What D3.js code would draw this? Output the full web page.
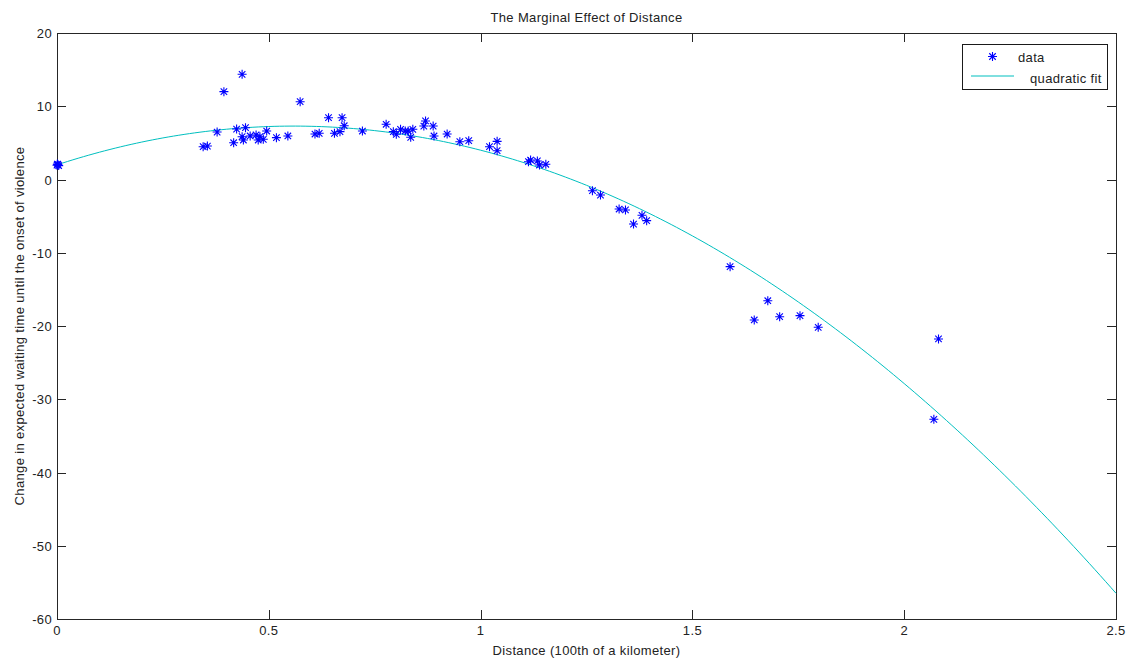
<!DOCTYPE html>
<html>
<head>
<meta charset="utf-8">
<script src="https://cdn.jsdelivr.net/npm/d3@7"></script>
<style>
  body { margin: 0; background: #fff; }
  svg { display: block; font-family: Arial, 'Liberation Sans', sans-serif; }
  .lbl { font-size: 13px; font-weight: normal; letter-spacing: 0.35px; fill: #222; }
  .frame { fill: none; stroke: #262626; stroke-width: 1; shape-rendering: crispEdges; }
  .tickmark { stroke: #262626; stroke-width: 1; shape-rendering: crispEdges; }
  .star { stroke: #0000ff; stroke-width: 1.1; }
  .fit { fill: none; stroke: rgb(0, 191, 191); stroke-width: 1; }
</style>
</head>
<body>
<svg id="chart" width="1136" height="662"></svg>
<script>
// distance (100th of a km) and change in expected waiting time
var distX = [
  0, 0.002, 0.004, 0.001,
  0.345, 0.355, 0.378, 0.394, 0.417, 0.424, 0.437, 0.445, 0.437, 0.440,
  0.456, 0.470, 0.475, 0.479, 0.487, 0.495, 0.518, 0.545, 0.574, 0.609,
  0.619, 0.641, 0.655, 0.668, 0.673, 0.678, 0.721, 0.777, 0.794, 0.801,
  0.811, 0.822, 0.829, 0.840, 0.835, 0.870, 0.866, 0.888, 0.890, 0.921,
  0.951, 0.972, 1.021, 1.039, 1.039, 1.113, 1.118, 1.134, 1.139, 1.154,
  1.264, 1.283, 1.327, 1.342, 1.361, 1.381, 1.392, 1.589, 1.646, 1.678,
  1.706, 1.754, 1.797, 2.070, 2.081
];
var effectY = [
  1.95, 2.05, 1.9, 2.1,
  4.48, 4.57, 6.48, 11.99, 5.02, 6.89, 14.36, 7.07, 5.84, 5.39,
  5.94, 6.08, 5.39, 5.84, 5.49, 6.62, 5.71, 5.94, 10.62, 6.21,
  6.31, 8.44, 6.31, 6.53, 8.44, 7.34, 6.62, 7.54, 6.53, 6.17,
  6.85, 6.62, 6.62, 6.85, 5.76, 7.99, 7.30, 7.30, 5.94, 6.21,
  5.16, 5.30, 4.48, 5.21, 3.93, 2.43, 2.66, 2.53, 1.98, 2.08,
  -1.53, -2.12, -4.03, -4.16, -6.08, -4.89, -5.62, -11.90, -19.18, -16.55,
  -18.73, -18.59, -20.18, -32.74, -21.77
];
// quadratic fit coefficients, highest power first (as polyval)
var fitCoef = [-16.93, 18.93, 2.0];

var xTicks = [0, 0.5, 1, 1.5, 2, 2.5];
var yTicks = [-60, -50, -40, -30, -20, -10, 0, 10, 20];
var legendItems = ['data', 'quadratic fit'];

var margin = { left: 57, right: 20, top: 33, bottom: 43 };
var width = 1136, height = 662;
var tickLen = 9;

var svg = d3.select('#chart');

var x = d3.scaleLinear().domain([0, 2.5]).range([margin.left, width - margin.right]);
var y = d3.scaleLinear().domain([-60, 20]).range([height - margin.bottom, margin.top]);

var points = distX.map(function (d, i) { return { x: d, y: effectY[i] }; });

var fitPts = d3.range(0, 2.5 + 1e-9, 0.0125).map(function (d) {
  return { x: d, y: polyval(fitCoef, d) };
});

drawAxes();
drawFit();
drawPoints();
drawLegend();
drawText();

function polyval(p, v) {
  return p.reduce(function (acc, c) { return acc * v + c; }, 0);
}

function plainNum(d) {
  return String(d);
}

function starPath(cx, cy, r) {
  var d = r * 0.72;
  return 'M' + (cx - r) + ',' + cy + 'H' + (cx + r) +
    'M' + cx + ',' + (cy - r) + 'V' + (cy + r) +
    'M' + (cx - d) + ',' + (cy - d) + 'L' + (cx + d) + ',' + (cy + d) +
    'M' + (cx - d) + ',' + (cy + d) + 'L' + (cx + d) + ',' + (cy - d);
}

function drawAxes() {
  var x0 = x.range()[0], x1 = x.range()[1];
  var y0 = y.range()[0], y1 = y.range()[1];

  svg.append('rect')
    .classed('frame', true)
    .attr('x', x0 + 0.5)
    .attr('y', y1 + 0.5)
    .attr('width', x1 - x0)
    .attr('height', y0 - y1);

  // tick labels from d3 axes; the box carries its own ticks on all sides
  var xAxis = d3.axisBottom(x).tickValues(xTicks).tickSize(0).tickPadding(0)
    .offset(0).tickFormat(plainNum);
  var gx = svg.append('g').attr('transform', 'translate(0,' + y0 + ')').call(xAxis);
  gx.attr('font-size', null).attr('font-family', null);
  gx.select('.domain').remove();
  gx.selectAll('text').attr('class', 'lbl').attr('dy', null).attr('y', 16);

  var yAxis = d3.axisLeft(y).tickValues(yTicks).tickSize(0).tickPadding(5)
    .offset(0).tickFormat(plainNum);
  var gy = svg.append('g').attr('transform', 'translate(' + x0 + ',0)').call(yAxis);
  gy.attr('font-size', null).attr('font-family', null);
  gy.select('.domain').remove();
  gy.selectAll('text').attr('class', 'lbl').attr('dy', 5);

  var tg = svg.append('g');
  xTicks.forEach(function (t) {
    var px = Math.round(x(t)) + 0.5;
    tg.append('line').classed('tickmark', true)
      .attr('x1', px).attr('x2', px).attr('y1', y0).attr('y2', y0 - tickLen);
    tg.append('line').classed('tickmark', true)
      .attr('x1', px).attr('x2', px).attr('y1', y1).attr('y2', y1 + tickLen);
  });
  yTicks.forEach(function (t) {
    var py = Math.round(y(t)) + 0.5;
    tg.append('line').classed('tickmark', true)
      .attr('x1', x0).attr('x2', x0 + tickLen).attr('y1', py).attr('y2', py);
    tg.append('line').classed('tickmark', true)
      .attr('x1', x1).attr('x2', x1 - tickLen).attr('y1', py).attr('y2', py);
  });
}

function drawFit() {
  var line = d3.line()
    .x(function (d) { return x(d.x); })
    .y(function (d) { return y(d.y); });
  svg.append('path')
    .datum(fitPts)
    .classed('fit', true)
    .attr('d', line);
}

function drawPoints() {
  svg.append('g')
    .selectAll('.star')
    .data(points)
    .enter()
    .append('path')
    .classed('star', true)
    .attr('d', function (d) { return starPath(x(d.x), y(d.y), 4.5); });
}

function drawLegend() {
  var lg = svg.append('g').attr('transform', 'translate(962,44)');
  lg.append('rect')
    .attr('x', 0.5).attr('y', 0.5)
    .attr('width', 145).attr('height', 45)
    .attr('fill', '#fff')
    .attr('stroke', '#1a1a1a')
    .attr('shape-rendering', 'crispEdges');
  lg.append('path')
    .classed('star', true)
    .attr('d', starPath(30.5, 12.5, 4.5));
  lg.append('line')
    .classed('fit', true)
    .attr('x1', 9).attr('x2', 52).attr('y1', 32).attr('y2', 32);
  lg.selectAll('.leg-text')
    .data(legendItems)
    .enter()
    .append('text')
    .attr('class', 'lbl leg-text')
    .attr('x', function (d, i) { return i === 0 ? 56 : 68; })
    .attr('y', function (d, i) { return i === 0 ? 18 : 39; })
    .text(function (d) { return d; });
}

function drawText() {
  var cx = (x.range()[0] + x.range()[1]) / 2;
  var cy = (y.range()[0] + y.range()[1]) / 2;
  svg.append('text')
    .classed('lbl', true)
    .attr('x', cx).attr('y', 22)
    .attr('text-anchor', 'middle')
    .text('The Marginal Effect of Distance');
  svg.append('text')
    .classed('lbl', true)
    .attr('x', cx).attr('y', 655)
    .attr('text-anchor', 'middle')
    .text('Distance (100th of a kilometer)');
  svg.append('text')
    .classed('lbl', true)
    .attr('transform', 'translate(24,' + cy + ') rotate(-90)')
    .attr('text-anchor', 'middle')
    .text('Change in expected waiting time until the onset of violence');
}
</script>
</body>
</html>
